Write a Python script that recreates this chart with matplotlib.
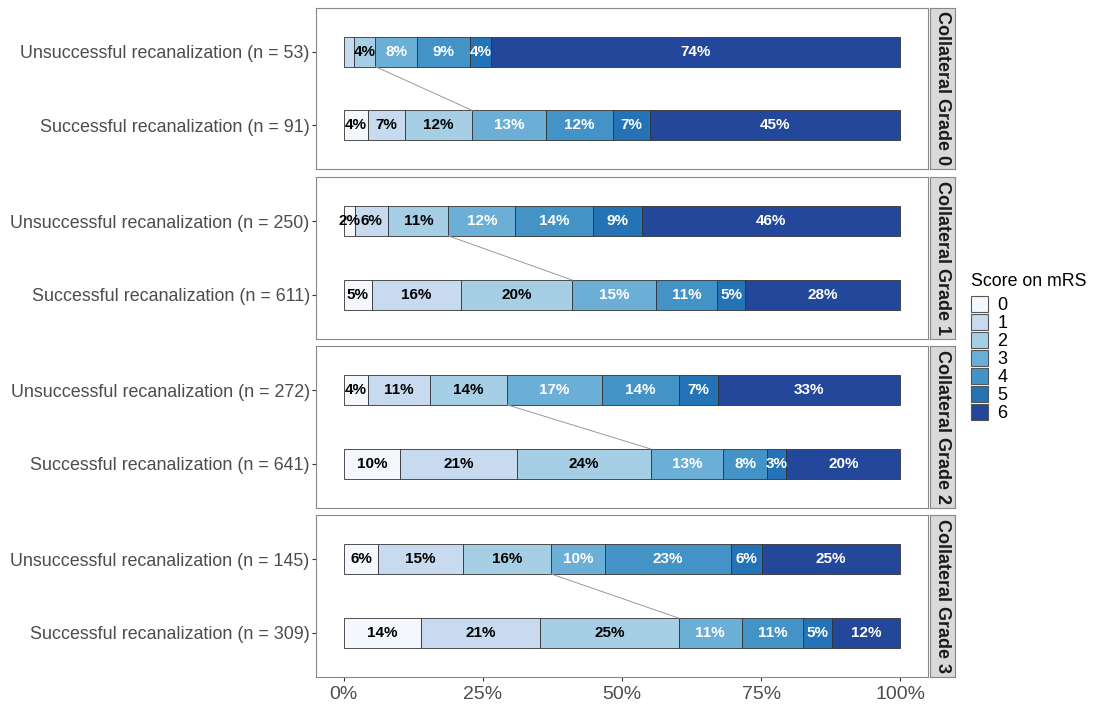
import numpy as np
import matplotlib.pyplot as plt
from matplotlib.patches import Patch

plt.rcParams['font.family'] = ['Liberation Sans', 'DejaVu Sans']

# -----------------------------------------------------------------
# dados: contagens por escore mRS (0..6), por grau de colateral
# -----------------------------------------------------------------
graus = ["Collateral Grade 0", "Collateral Grade 1", "Collateral Grade 2", "Collateral Grade 3"]
scores = ["0", "1", "2", "3", "4", "5", "6"]

n_unsucc = [53, 250, 272, 145]
n_succ = [91, 611, 641, 309]

unsucc_g0 = [0, 1, 2, 4, 5, 2, 39]
unsucc_g1 = [5, 15, 27, 30, 35, 22, 116]
unsucc_g2 = [12, 30, 38, 46, 38, 19, 89]
unsucc_g3 = [9, 22, 23, 14, 33, 8, 36]

succ_g0 = [4, 6, 11, 12, 11, 6, 41]
succ_g1 = [31, 98, 122, 92, 67, 31, 170]
succ_g2 = [65, 135, 154, 83, 51, 22, 131]
succ_g3 = [43, 66, 77, 35, 34, 16, 38]

unsucc = [unsucc_g0, unsucc_g1, unsucc_g2, unsucc_g3]
succ = [succ_g0, succ_g1, succ_g2, succ_g3]

cores = ["#f4f7fc", "#c8daf0", "#a6cfe6", "#6baed6", "#4393c6", "#2373b6", "#23479a"]
cor_texto = ["black", "black", "black", "white", "white", "white", "white"]

# -----------------------------------------------------------------
# figura
# -----------------------------------------------------------------
W, H = 1102, 708
fig = plt.figure(figsize=(W / 100, H / 100), dpi=100)

paineis_px = [(8, 169), (177, 339), (346, 508), (515, 677)]
x0_px, x1_px = 316, 928
strip_x0, strip_x1 = 930, 955

larg_barra = 0.4

for k, (topo, base) in enumerate(paineis_px):
    ax = fig.add_axes([x0_px / W, 1 - base / H, (x1_px - x0_px) / W, (base - topo) / H])
    ax.set_xlim(-5, 105)
    ax.set_ylim(0.4, 2.6)

    linhas = [
        (2, unsucc[k], f"Unsuccessful recanalization (n = {n_unsucc[k]})"),
        (1, succ[k], f"Successful recanalization (n = {n_succ[k]})"),
    ]
    cum02 = {}
    for ypos, cont, rotulo in linhas:
        pct = np.array(cont) / sum(cont) * 100
        esq = 0
        for i, p in enumerate(pct):
            if p > 0:
                ax.barh(ypos, p, left=esq, height=larg_barra, color=cores[i],
                        edgecolor="#333333", linewidth=0.6)
                if p >= 2:
                    ax.text(esq + p / 2, ypos, f"{p:.0f}%", ha="center", va="center",
                            fontsize=11, fontweight="bold", color=cor_texto[i])
            esq += p
        cum02[ypos] = pct[:3].sum()

    # linha ligando mRS 0-2 acumulado
    ax.plot([cum02[2], cum02[1]], [2 - larg_barra / 2, 1 + larg_barra / 2],
            color="#999999", linewidth=0.7)

    ax.set_yticks([2, 1])
    ax.set_yticklabels([linhas[0][2], linhas[1][2]], fontsize=12.9, color="#4d4d4d")
    ax.tick_params(axis="y", length=3, color="#333333", pad=1.5)
    if k == 3:
        ax.set_xticks([0, 25, 50, 75, 100])
        ax.set_xticklabels(["0%", "25%", "50%", "75%", "100%"], fontsize=14, color="#4d4d4d")
        ax.tick_params(axis="x", length=3, color="#333333")
    else:
        ax.set_xticks([])
    for s in ax.spines.values():
        s.set_color("#888888")
        s.set_linewidth(0.8)

    # faixa lateral (strip)
    sax = fig.add_axes([strip_x0 / W, 1 - base / H, (strip_x1 - strip_x0) / W, (base - topo) / H])
    sax.set_facecolor("#d9d9d9")
    sax.set_xticks([])
    sax.set_yticks([])
    for s in sax.spines.values():
        s.set_color("#888888")
        s.set_linewidth(0.8)
    sax.text(0.5, 0.5, graus[k], rotation=-90, ha="center", va="center",
             fontsize=13, fontweight="bold", color="#1a1a1a", transform=sax.transAxes)

# legenda (titulo separado para ter um respiro antes das chaves)
fig.text(971 / W, 1 - 281 / H, "Score on mRS", fontsize=12.8, va="center", ha="left")
handles = [Patch(facecolor=c, edgecolor="#555555", linewidth=0.8) for c in cores]
fig.legend(handles, scores, loc="upper left",
           bbox_to_anchor=(971 / W, 1 - 296 / H), frameon=False,
           fontsize=13, labelspacing=0,
           handlelength=0.95, handleheight=0.95, handletextpad=0.5,
           borderaxespad=0, borderpad=0)

fig.savefig("out.png", dpi=100)
